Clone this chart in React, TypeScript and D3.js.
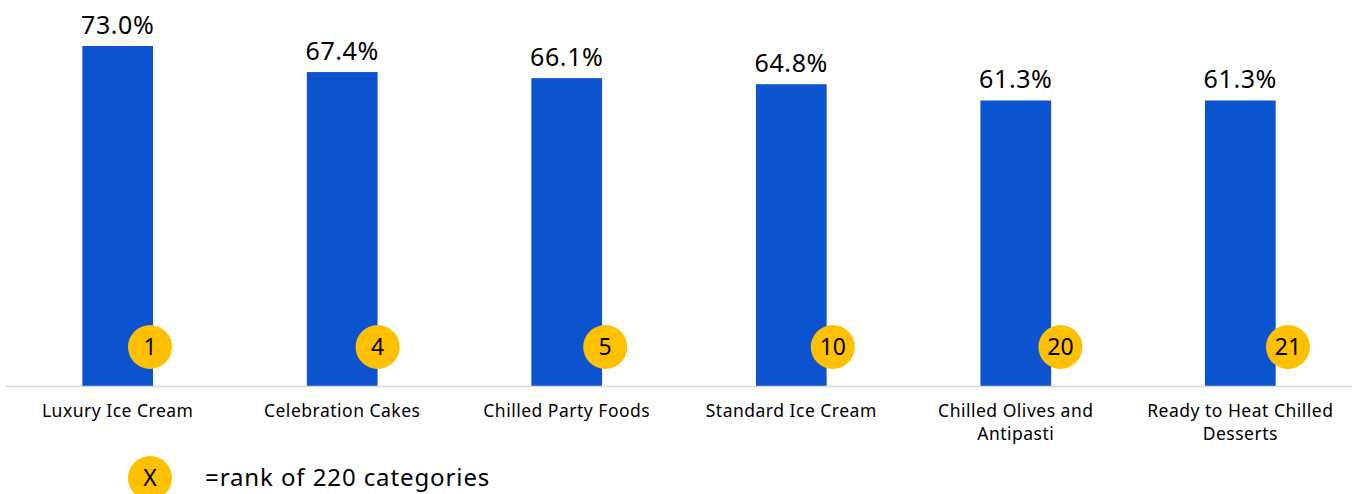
import React from "react";
import * as d3 from "d3";

const categories: string[][] = [
  ["Luxury Ice Cream"],
  ["Celebration Cakes"],
  ["Chilled Party Foods"],
  ["Standard Ice Cream"],
  ["Chilled Olives and", "Antipasti"],
  ["Ready to Heat Chilled", "Desserts"],
];
const values: number[] = [73.0, 67.4, 66.1, 64.8, 61.3, 61.3];
const ranks: number[] = [1, 4, 5, 10, 20, 21];
const legendText = "=rank of 220 categories";

const W = 1359;
const H = 494;
const FONT = "'Noto Sans', sans-serif";
const BLUE = "#0B53CF";
const GOLD = "#FFC000";

export default function App() {
  const idx = categories.map((_, i) => i);
  const x = d3.scaleBand<number>().domain(idx).range([6, 1352]).paddingInner(0.685).paddingOuter(0.34);
  const badgeX = d3.scalePoint<number>().domain(idx).range([150, 1288]);
  const y = d3.scaleLinear().domain([0, 73]).range([386, 46]);
  const bw = x.bandwidth();

  return (
    <svg width={W} height={H} style={{ position: "absolute", left: 0, top: 0 }} fontFamily={FONT}>
      <rect width={W} height={H} fill="#fff" />
      {values.map((v, i) => (
        <g key={i}>
          <rect x={x(i)!} y={y(v)} width={bw} height={y(0) - y(v)} fill={BLUE} />
          <text x={x(i)! + bw / 2} y={y(v) - 12} textAnchor="middle" fontSize={25} letterSpacing={0.6} fill="#000">
            {v.toFixed(1) + "%"}
          </text>
        </g>
      ))}
      <line x1={6} x2={1352} y1={y(0) + 0.5} y2={y(0) + 0.5} stroke="#D9D9D9" strokeWidth={1.5} />
      {ranks.map((r, i) => (
        <g key={i}>
          <circle cx={badgeX(i)!} cy={347} r={22} fill={GOLD} />
          <text x={badgeX(i)!} y={347} dy="0.36em" textAnchor="middle" fontSize={23} fill="#000">
            {r}
          </text>
        </g>
      ))}
      {categories.map((lines, i) => (
        <text key={i} x={x(i)! + bw / 2} y={417} textAnchor="middle" fontSize={17.5} letterSpacing={0.5} fill="#000">
          {lines.map((l, j) => (
            <tspan key={j} x={x(i)! + bw / 2} dy={j === 0 ? 0 : 23}>
              {l}
            </tspan>
          ))}
        </text>
      ))}
      <circle cx={150} cy={478} r={22} fill={GOLD} />
      <text x={150} y={478} dy="0.36em" textAnchor="middle" fontSize={23} fill="#000">X</text>
      <text x={205} y={486} fontSize={24} letterSpacing={0.9} fill="#000">{legendText}</text>
    </svg>
  );
}
